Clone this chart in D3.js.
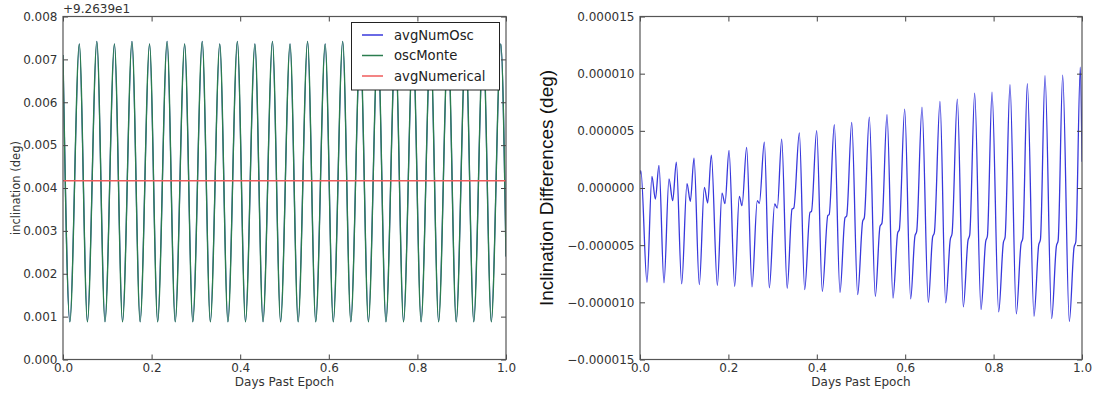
<!DOCTYPE html>
<html>
<head>
<meta charset="utf-8">
<script src="https://cdn.jsdelivr.net/npm/d3@7"></script>
<style>
  html, body { margin: 0; padding: 0; background: #fff; }
  svg { display: block; }
  text { font-family: "DejaVu Sans", sans-serif; }
</style>
</head>
<body>
<svg id="chart" width="1094" height="393"></svg>
<script>
// ---- Left panel: osculating inclination over one day (offset from 92.639 deg) ----
// turning points of the oscillation: start, trough/peak pairs, end
const oscDays = [
  0,
  0.0155, 0.0368, 0.0551, 0.0764, 0.0948, 0.1161, 0.1344, 0.1557, 0.1741, 0.1954,
  0.2137, 0.2350, 0.2533, 0.2746, 0.2930, 0.3143, 0.3326, 0.3539, 0.3723, 0.3936,
  0.4119, 0.4332, 0.4515, 0.4728, 0.4912, 0.5125, 0.5308, 0.5521, 0.5705, 0.5918,
  0.6101, 0.6314, 0.6497, 0.6710, 0.6894, 0.7107, 0.7290, 0.7503, 0.7687, 0.7900,
  0.8083, 0.8296, 0.8479, 0.8692, 0.8876, 0.9089, 0.9272, 0.9485, 0.9668, 0.9882,
  1.0
];
const oscMonteVals = [
  0.0071,
  0.00088, 0.00736, 0.00088, 0.00742, 0.00088, 0.00736, 0.00088, 0.00742, 0.00088, 0.00736,
  0.00088, 0.00742, 0.00088, 0.00736, 0.00088, 0.00742, 0.00088, 0.00736, 0.00088, 0.00742,
  0.00088, 0.00736, 0.00088, 0.00742, 0.00088, 0.00736, 0.00088, 0.00742, 0.00088, 0.00736,
  0.00088, 0.00742, 0.00088, 0.00736, 0.00088, 0.00742, 0.00088, 0.00736, 0.00088, 0.00742,
  0.00088, 0.00736, 0.00088, 0.00742, 0.00088, 0.00736, 0.00088, 0.00742, 0.00088, 0.00736,
  0.0024
];
// averaged numerical propagation converted back to osculating elements (same curve)
const avgNumOscVals = oscMonteVals.slice();
// mean inclination from the averaged propagation
const avgNumericalVal = 0.00417;
const avgNumericalDays = [0, 1];

const leftXTicks = [0, 0.2, 0.4, 0.6, 0.8, 1.0];
const leftYTicks = [0, 0.001, 0.002, 0.003, 0.004, 0.005, 0.006, 0.007, 0.008];
const leftOffsetLabel = "+9.2639e1";
const leftSeriesNames = ["avgNumOsc", "oscMonte", "avgNumerical"];

// ---- Right panel: inclination difference, values in 1e-6 deg ----
const diffDays = [
  0, 0.002, 0.0158, 0.027, 0.0347, 0.043,
  0.0543, 0.0656, 0.074, 0.0822,
  0.0943, 0.1063, 0.1139, 0.1222,
  0.1342, 0.1456, 0.1531, 0.1614,
  0.175, 0.1855, 0.1923, 0.2014,
  0.2142, 0.2247, 0.2308, 0.2413,
  0.2534, 0.2654, 0.2700, 0.2813,
  0.2926, 0.3047, 0.3106, 0.3206,
  0.3330, 0.344, 0.348, 0.3605,
  0.3726, 0.3846, 0.388, 0.3997,
  0.4125, 0.425, 0.428, 0.4396,
  0.4525, 0.4638, 0.4676, 0.479,
  0.4925, 0.5038, 0.5075, 0.5188,
  0.5324, 0.543, 0.5475, 0.5588,
  0.5724, 0.583, 0.5867, 0.5988,
  0.6124, 0.622, 0.626, 0.638,
  0.6523, 0.662, 0.666, 0.6787,
  0.6916, 0.702, 0.706, 0.7179,
  0.7315, 0.742, 0.746, 0.7572,
  0.7715, 0.782, 0.786, 0.7964,
  0.8115, 0.822, 0.826, 0.8371,
  0.8514, 0.862, 0.866, 0.8763,
  0.8914, 0.902, 0.906, 0.9163,
  0.9314, 0.942, 0.946, 0.9563,
  0.9713, 0.982, 0.986, 0.9962,
  1.0
];
const diffMicroDeg = [
  1.2, 1.51, -8.25, 1.01, -0.96, 1.98,
  -8.30, 0.79, -1.11, 2.27,
  -8.39, 0.38, -1.17, 2.62,
  -8.45, 0.05, -1.31, 2.88,
  -8.51, -0.44, -1.37, 3.29,
  -8.60, -0.73, -1.55, 3.55,
  -8.65, -1.11, -1.35, 4.02,
  -8.74, -1.40, -1.75, 4.28,
  -8.77, -1.84, -1.75, 4.81,
  -8.89, -2.13, -2.05, 5.01,
  -9.04, -2.40, -2.33, 5.53,
  -9.13, -2.60, -2.45, 5.73,
  -9.33, -2.90, -2.60, 6.20,
  -9.47, -3.36, -3.06, 6.41,
  -9.62, -3.93, -3.65, 6.90,
  -9.70, -4.20, -3.80, 7.08,
  -10.00, -4.30, -3.90, 7.57,
  -10.05, -4.50, -4.00, 7.78,
  -10.40, -4.60, -4.10, 8.30,
  -10.64, -4.70, -4.20, 8.39,
  -10.84, -4.80, -4.30, 9.03,
  -11.01, -4.90, -4.40, 9.12,
  -11.22, -5.00, -4.50, 9.82,
  -11.42, -5.10, -4.60, 9.88,
  -11.66, -5.20, -4.70, 10.57,
  2.3
];
const rightXTicks = [0, 0.2, 0.4, 0.6, 0.8, 1.0];
const rightYTicks = [-0.000015, -0.00001, -0.000005, 0, 0.000005, 0.00001, 0.000015];

// ---- drawing ----
const svg = d3.select("#chart");
const tickColor = "#444";
const labelColor = "#333";
const tickFont = 12;

function frameAxes(g, x, y, xTicks, yTicks, xFmt, yFmt) {
  const [x0, x1] = x.range();
  const [yb, yt] = y.range();
  const tickLen = 5;

  const styleAxis = sel => {
    sel.select(".domain").remove();
    sel.selectAll(".tick line").attr("stroke", tickColor).attr("stroke-width", 1);
    sel.selectAll(".tick text")
      .attr("fill", labelColor)
      .style("font-family", "'DejaVu Sans', sans-serif")
      .style("font-size", tickFont + "px");
  };

  g.append("g").attr("transform", `translate(0,${yb})`)
    .call(d3.axisBottom(x).tickValues(xTicks).tickSizeInner(-tickLen).tickSizeOuter(0)
      .tickPadding(4).tickFormat(xFmt))
    .call(styleAxis);
  g.append("g").attr("transform", `translate(0,${yt})`)
    .call(d3.axisTop(x).tickValues(xTicks).tickSizeInner(-tickLen).tickSizeOuter(0)
      .tickFormat(""))
    .call(styleAxis);
  g.append("g").attr("transform", `translate(${x0},0)`)
    .call(d3.axisLeft(y).tickValues(yTicks).tickSizeInner(-tickLen).tickSizeOuter(0)
      .tickPadding(5.5).tickFormat(yFmt))
    .call(styleAxis);
  g.append("g").attr("transform", `translate(${x1},0)`)
    .call(d3.axisRight(y).tickValues(yTicks).tickSizeInner(-tickLen).tickSizeOuter(0)
      .tickFormat(""))
    .call(styleAxis);
}

function frameBox(g, x, y) {
  const [x0, x1] = x.range();
  const [yb, yt] = y.range();
  g.append("rect")
    .attr("x", x0).attr("y", yt)
    .attr("width", x1 - x0).attr("height", yb - yt)
    .attr("fill", "none").attr("stroke", "#555").attr("stroke-width", 1.2);
}

// Left panel
const xL = d3.scaleLinear().domain([0, 1]).range([63, 506]);
const yL = d3.scaleLinear().domain([0, 0.008]).range([359.5, 16.5]);
const left = svg.append("g");

svg.append("defs").append("clipPath").attr("id", "clipL")
  .append("rect").attr("x", 63).attr("y", 16.5).attr("width", 443).attr("height", 343);

const lineL = d3.line().curve(d3.curveMonotoneX);
const plotL = left.append("g").attr("clip-path", "url(#clipL)");

const colBlue = "#3838dc";
const colGreen = "#2b7d4f";
const colRed = "#ef5b5b";

plotL.append("path")
  .attr("d", lineL(oscDays.map((d, i) => [xL(d), yL(avgNumOscVals[i])])))
  .attr("fill", "none").attr("stroke", colBlue).attr("stroke-width", 1.2);
plotL.append("path")
  .attr("d", lineL(oscDays.map((d, i) => [xL(d), yL(oscMonteVals[i])])))
  .attr("fill", "none").attr("stroke", colGreen).attr("stroke-width", 1.4);
plotL.append("path")
  .attr("d", d3.line()(avgNumericalDays.map(d => [xL(d), yL(avgNumericalVal)])))
  .attr("fill", "none").attr("stroke", colRed).attr("stroke-width", 1.6);

frameAxes(left, xL, yL, leftXTicks, leftYTicks, d3.format(".1f"), d3.format(".3f"));

// legend
const leg = left.append("g");
leg.append("rect").attr("x", 351.5).attr("y", 22.5).attr("width", 148).attr("height", 67.5)
  .attr("fill", "#fff").attr("stroke", "#222").attr("stroke-width", 1);
const legColors = [colBlue, colGreen, colRed];
const legRowY = [35, 55.5, 76];
leftSeriesNames.forEach((name, i) => {
  leg.append("line").attr("x1", 362).attr("x2", 383)
    .attr("y1", legRowY[i]).attr("y2", legRowY[i])
    .attr("stroke", legColors[i]).attr("stroke-width", 1.5);
  leg.append("text").attr("x", 394).attr("y", legRowY[i] + 4.7)
    .attr("fill", "#222").style("font-size", "13.2px").text(name);
});

frameBox(left, xL, yL);

left.append("text").attr("x", 63).attr("y", 13)
  .attr("fill", labelColor).style("font-size", tickFont + "px").text(leftOffsetLabel);
left.append("text").attr("x", (63 + 506) / 2).attr("y", 386)
  .attr("text-anchor", "middle").attr("fill", labelColor)
  .style("font-size", "12px").text("Days Past Epoch");
left.append("text").attr("transform", "translate(20,188) rotate(-90)")
  .attr("text-anchor", "middle").attr("fill", labelColor)
  .style("font-size", "11.5px").text("inclination (deg)");

// Right panel
const xR = d3.scaleLinear().domain([0, 1]).range([640, 1082]);
const yR = d3.scaleLinear().domain([-0.000015, 0.000015]).range([359.5, 16.5]);
const right = svg.append("g");

svg.select("defs").append("clipPath").attr("id", "clipR")
  .append("rect").attr("x", 640).attr("y", 16.5).attr("width", 442).attr("height", 343);

right.append("g").attr("clip-path", "url(#clipR)").append("path")
  .attr("d", d3.line().curve(d3.curveMonotoneX)(
    diffDays.map((d, i) => [xR(d), yR(diffMicroDeg[i] * 1e-6)])))
  .attr("fill", "none").attr("stroke", colBlue).attr("stroke-width", 1.3);

frameAxes(right, xR, yR, rightXTicks, rightYTicks, d3.format(".1f"), d3.format(".6f"));
frameBox(right, xR, yR);

right.append("text").attr("x", (640 + 1082) / 2).attr("y", 386)
  .attr("text-anchor", "middle").attr("fill", labelColor)
  .style("font-size", "12px").text("Days Past Epoch");
right.append("text").attr("transform", "translate(553,188) rotate(-90)")
  .attr("text-anchor", "middle").attr("fill", "#111")
  .style("font-family", "'Liberation Sans', Arial, sans-serif")
  .style("font-size", "19px").text("Inclination Differences (deg)");
</script>
</body>
</html>
